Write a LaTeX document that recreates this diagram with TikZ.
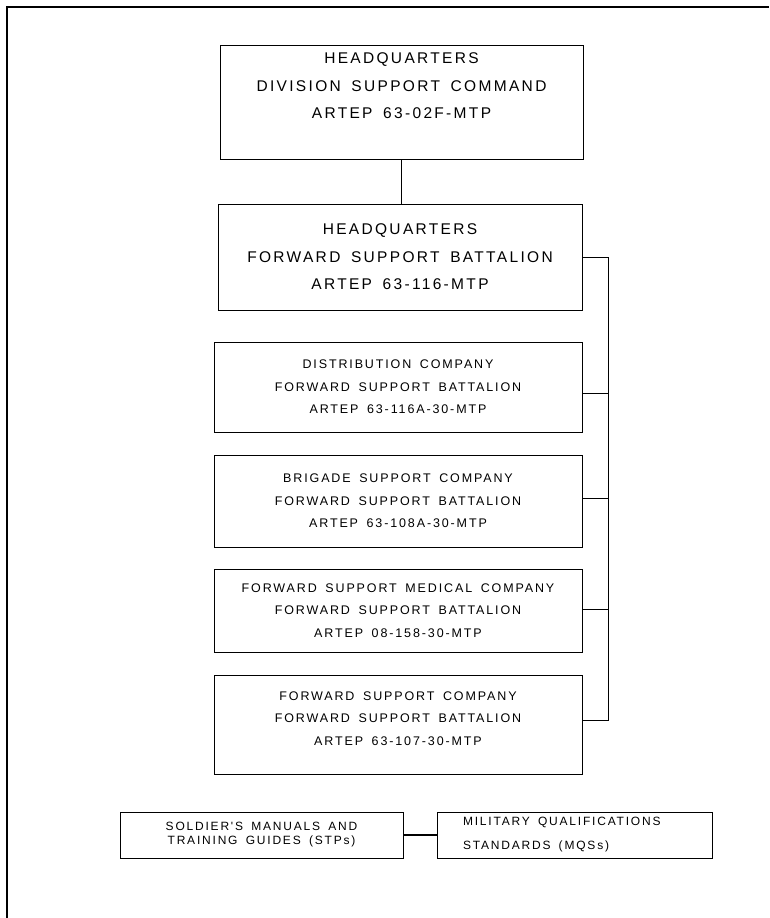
\documentclass[tikz,border=0pt]{standalone}
\usepackage{fontspec}
\setmainfont{Liberation Sans}
\newfontfamily\orgfont[LetterSpace=15,WordSpace=1.6]{Liberation Sans}
\usetikzlibrary{calc}
\usetikzlibrary{positioning}

\begin{document}
\begin{tikzpicture}[x=1pt,y=-1pt,
    unitbox/.style={draw,line width=0.9pt,align=center,inner sep=0pt},
    bigtext/.style={font=\orgfont\fontsize{15.5}{27.5}\selectfont},
    smalltext/.style={font=\orgfont\fontsize{12.5}{22.5}\selectfont},
    stptext/.style={font=\orgfont\fontsize{12}{14}\selectfont},
    mqstext/.style={font=\orgfont\fontsize{12}{24}\selectfont},
    link/.style={line width=0.9pt}]
        \useasboundingbox (0,0) rectangle (769,918);
        \draw[line width=2pt] (7,918) -- (7,7) -- (769,7);
        \node[unitbox,bigtext,minimum width=363pt,minimum height=114pt,text depth=32pt] (hqdiv) at (401.5,102) {HEADQUARTERS\\DIVISION SUPPORT COMMAND\\ARTEP 63-02F-MTP};
        \node[unitbox,bigtext,minimum width=364pt,minimum height=106pt] (hqfsb) at (400,257) {HEADQUARTERS\\FORWARD SUPPORT BATTALION\\ARTEP 63-116-MTP};
        \node[unitbox,smalltext,minimum width=368pt,minimum height=90pt] (dco) at (398,387) {DISTRIBUTION COMPANY\\FORWARD SUPPORT BATTALION\\ARTEP 63-116A-30-MTP};
        \node[unitbox,smalltext,minimum width=368pt,minimum height=92pt] (bsc) at (398,501) {BRIGADE SUPPORT COMPANY\\FORWARD SUPPORT BATTALION\\ARTEP 63-108A-30-MTP};
        \node[unitbox,smalltext,minimum width=368pt,minimum height=83pt] (fsmc) at (398,610.5) {FORWARD SUPPORT MEDICAL COMPANY\\FORWARD SUPPORT BATTALION\\ARTEP 08-158-30-MTP};
        \node[unitbox,smalltext,minimum width=368pt,minimum height=99pt,text depth=12pt] (fsc) at (398,724.5) {FORWARD SUPPORT COMPANY\\FORWARD SUPPORT BATTALION\\ARTEP 63-107-30-MTP};
        \node[unitbox,stptext,minimum width=283pt,minimum height=46pt] (stp) at (261.5,835) {SOLDIER'S MANUALS AND\\TRAINING GUIDES (STPs)};
        \node[unitbox,mqstext,align=left,text width=223pt,inner xsep=26pt,minimum height=46pt] (mqs) at (574.5,835) {\spaceskip=0pt\xspaceskip=0pt MILITARY QUALIFICATIONS\\STANDARDS (MQSs)};
        \coordinate (bustop) at (608,257);
        \coordinate (tapdco) at (608,393);
        \coordinate (tapbsc) at (608,498);
        \coordinate (tapfsmc) at (608,609);
        \coordinate (busbot) at (608,720);
        \draw[link] (hqdiv.south) -- (hqdiv.south |- hqfsb.north);
        \draw[link] (hqfsb.east) -- (bustop) -- (busbot) -- (busbot -| fsc.east);
        \draw[link] (tapdco -| dco.east) -- (tapdco);
        \draw[link] (tapbsc -| bsc.east) -- (tapbsc);
        \draw[link] (tapfsmc -| fsmc.east) -- (tapfsmc);
        \draw[line width=1.8pt] (stp) -- (mqs);
    \end{tikzpicture}
\end{document}
